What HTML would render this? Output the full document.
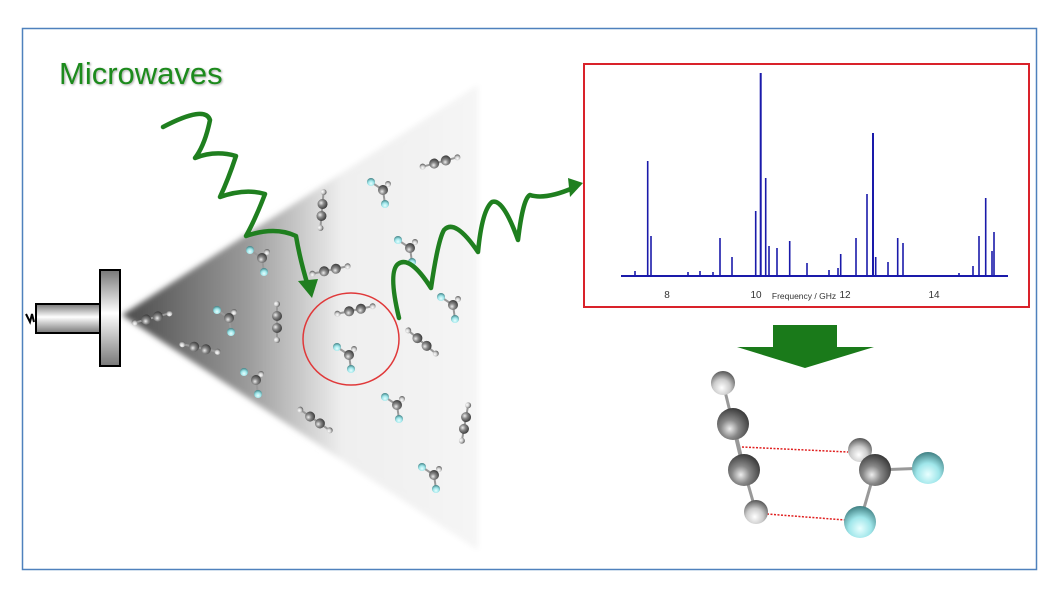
<!DOCTYPE html>
<html><head><meta charset="utf-8"><style>
html,body{margin:0;padding:0;background:#fff;width:1057px;height:599px;overflow:hidden}
svg{display:block}
</style></head><body>
<svg width="1057" height="599" viewBox="0 0 1057 599" xmlns="http://www.w3.org/2000/svg">
<defs>
<linearGradient id="cone" x1="122" y1="0" x2="478" y2="0" gradientUnits="userSpaceOnUse">
<stop offset="0" stop-color="#4a4a4a"/><stop offset="0.35" stop-color="#9a9a9a"/><stop offset="0.62" stop-color="#efefef"/><stop offset="1" stop-color="#f5f5f5"/></linearGradient>
<linearGradient id="metal" x1="0" y1="0" x2="0" y2="1">
<stop offset="0" stop-color="#777"/><stop offset="0.45" stop-color="#fff"/><stop offset="1" stop-color="#777"/></linearGradient>
<radialGradient id="gc" cx="0.4" cy="0.65" r="0.7"><stop offset="0" stop-color="#eee"/><stop offset="0.4" stop-color="#888"/><stop offset="1" stop-color="#333"/></radialGradient>
<radialGradient id="gh" cx="0.45" cy="0.7" r="0.7"><stop offset="0" stop-color="#fff"/><stop offset="0.5" stop-color="#ccc"/><stop offset="1" stop-color="#555"/></radialGradient>
<radialGradient id="gf" cx="0.5" cy="0.7" r="0.7"><stop offset="0" stop-color="#e8ffff"/><stop offset="0.5" stop-color="#9fe6ea"/><stop offset="1" stop-color="#3f7f82"/></radialGradient>
<filter id="bl"><feGaussianBlur stdDeviation="3"/></filter>
<filter id="sh"><feDropShadow dx="1" dy="1" stdDeviation="1" flood-color="#000" flood-opacity="0.35"/></filter>
<g id="ac"><line x1="-18" y1="0" x2="18" y2="0" stroke="#999" stroke-width="2"/><circle cx="-18" r="3" fill="url(#gh)"/><circle cx="-6" r="5" fill="url(#gc)"/><circle cx="6" r="5" fill="url(#gc)"/><circle cx="18" r="3" fill="url(#gh)"/></g>
<g id="mf"><line x1="0" y1="0" x2="-12" y2="-8" stroke="#999" stroke-width="2"/><line x1="0" y1="0" x2="2" y2="14" stroke="#999" stroke-width="2"/><circle cx="-12" cy="-8" r="4" fill="url(#gf)"/><circle cx="5" cy="-6" r="3" fill="url(#gh)"/><circle cx="0" cy="0" r="5" fill="url(#gc)"/><circle cx="2" cy="14" r="4" fill="url(#gf)"/></g>
</defs>
<rect x="22.5" y="28.5" width="1014" height="541" fill="#fff" stroke="#4f81bd" stroke-width="1.5"/>
<polygon points="122,315 478,85 478,550" fill="url(#cone)" filter="url(#bl)"/>
<text x="59" y="84" font-family="Liberation Sans, sans-serif" font-size="31" fill="#1f8a1f" filter="url(#sh)">Microwaves</text>
<!-- nozzle -->
<rect x="36" y="304" width="64" height="29" fill="url(#metal)" stroke="#000" stroke-width="2"/>
<rect x="100" y="270" width="20" height="96" fill="url(#metal)" stroke="#000" stroke-width="2"/>
<path d="M26,314 l4,8 l2,-8 l2,8" stroke="#000" stroke-width="2" fill="none"/>
<!-- molecules -->
<use href="#ac" transform="translate(152,318) rotate(-15)"/>
<use href="#ac" transform="translate(200,348) rotate(12)"/>
<use href="#ac" transform="translate(277,322) rotate(90)"/>
<use href="#ac" transform="translate(330,270) rotate(-12)"/>
<use href="#ac" transform="translate(355,310) rotate(-12)"/>
<use href="#ac" transform="translate(322,210) rotate(95)"/>
<use href="#ac" transform="translate(440,162) rotate(-15)"/>
<use href="#ac" transform="translate(422,342) rotate(40)"/>
<use href="#ac" transform="translate(315,420) rotate(35)"/>
<use href="#ac" transform="translate(465,423) rotate(100)"/>
<use href="#mf" transform="translate(229,318)"/>
<use href="#mf" transform="translate(262,258)"/>
<use href="#mf" transform="translate(383,190)"/>
<use href="#mf" transform="translate(410,248)"/>
<use href="#mf" transform="translate(453,305)"/>
<use href="#mf" transform="translate(349,355)"/>
<use href="#mf" transform="translate(256,380)"/>
<use href="#mf" transform="translate(397,405)"/>
<use href="#mf" transform="translate(434,475)"/>
<ellipse cx="351" cy="339" rx="48" ry="46" fill="none" stroke="#e0393a" stroke-width="1.5"/>
<!-- waves -->
<g stroke="#1f7f1f" stroke-width="4.5" fill="none" stroke-linejoin="round" stroke-linecap="round">
<path d="M163,127 Q205,105 210,120 Q205,145 195,158 Q215,150 236,156 Q228,180 220,197 Q245,188 265,194 Q255,220 246,236 Q275,226 296,236 Q300,260 308,286"/>
<path d="M399,318 Q388,272 398,264 Q410,255 431,288 Q438,240 444,230 Q455,218 478,252 Q482,210 492,202 Q503,198 518,240 Q523,198 530,195 Q545,200 573,188"/>
</g>
<polygon points="298,281 318,279 312,298" fill="#1f7f1f"/>
<polygon points="568,178 583,183 570,197" fill="#1f7f1f"/>
<!-- spectrum -->
<rect x="584" y="64" width="445" height="243" fill="#fff" stroke="#d9222a" stroke-width="2"/>
<g stroke="#1a1aaa" stroke-width="1.6">
<line x1="621" y1="276" x2="1008" y2="276" stroke-width="2"/>
<line x1="647.7" y1="276" x2="647.7" y2="161"/><line x1="651" y1="276" x2="651" y2="236"/>
<line x1="720" y1="276" x2="720" y2="238"/><line x1="732" y1="276" x2="732" y2="257"/>
<line x1="755.7" y1="276" x2="755.7" y2="211"/><line x1="760.7" y1="276" x2="760.7" y2="73" stroke-width="2"/>
<line x1="765.7" y1="276" x2="765.7" y2="178"/><line x1="769" y1="276" x2="769" y2="246"/>
<line x1="777" y1="276" x2="777" y2="248"/><line x1="789.7" y1="276" x2="789.7" y2="241"/>
<line x1="807" y1="276" x2="807" y2="263"/><line x1="840.7" y1="276" x2="840.7" y2="254"/>
<line x1="856" y1="276" x2="856" y2="238"/><line x1="867" y1="276" x2="867" y2="194"/>
<line x1="873" y1="276" x2="873" y2="133" stroke-width="2"/><line x1="875.7" y1="276" x2="875.7" y2="257"/>
<line x1="888" y1="276" x2="888" y2="262"/><line x1="897.7" y1="276" x2="897.7" y2="238"/>
<line x1="903" y1="276" x2="903" y2="243"/><line x1="973" y1="276" x2="973" y2="266"/>
<line x1="979" y1="276" x2="979" y2="236"/><line x1="985.7" y1="276" x2="985.7" y2="198"/>
<line x1="992" y1="276" x2="992" y2="251"/><line x1="994" y1="276" x2="994" y2="232"/>
<line x1="635" y1="276" x2="635" y2="271"/><line x1="688" y1="276" x2="688" y2="272"/><line x1="700" y1="276" x2="700" y2="271"/><line x1="713" y1="276" x2="713" y2="272"/><line x1="829" y1="276" x2="829" y2="270"/><line x1="838" y1="276" x2="838" y2="268"/><line x1="959" y1="276" x2="959" y2="273"/>
</g>
<g font-family="Liberation Sans, sans-serif" font-size="10" fill="#333" text-anchor="middle">
<text x="667" y="298">8</text><text x="756" y="298">10</text><text x="845" y="298">12</text><text x="934" y="298">14</text>
<text x="804" y="299" font-size="8.5">Frequency / GHz</text>
</g>
<!-- down arrow -->
<polygon points="773,325 837,325 837,347 874,347 805,368 737,347 773,347" fill="#1a7a1a"/>
<!-- complex -->
<g stroke="#999" stroke-width="3">
<line x1="723" y1="383" x2="733" y2="424"/><line x1="733" y1="424" x2="744" y2="470" stroke-width="4"/><line x1="744" y1="470" x2="756" y2="512"/>
<line x1="875" y1="470" x2="928" y2="468"/><line x1="875" y1="470" x2="860" y2="522"/>
</g>
<g stroke="#e02020" stroke-width="1.5" stroke-dasharray="2,1.5">
<line x1="742" y1="447" x2="848" y2="452"/><line x1="767" y1="514" x2="845" y2="520"/>
</g>
<circle cx="723" cy="383" r="12" fill="url(#gh)"/>
<circle cx="733" cy="424" r="16" fill="url(#gc)"/>
<circle cx="744" cy="470" r="16" fill="url(#gc)"/>
<circle cx="756" cy="512" r="12" fill="url(#gh)"/>
<circle cx="860" cy="450" r="12" fill="url(#gh)"/>
<circle cx="875" cy="470" r="16" fill="url(#gc)"/>
<circle cx="928" cy="468" r="16" fill="url(#gf)"/>
<circle cx="860" cy="522" r="16" fill="url(#gf)"/>
</svg>
</body></html>
